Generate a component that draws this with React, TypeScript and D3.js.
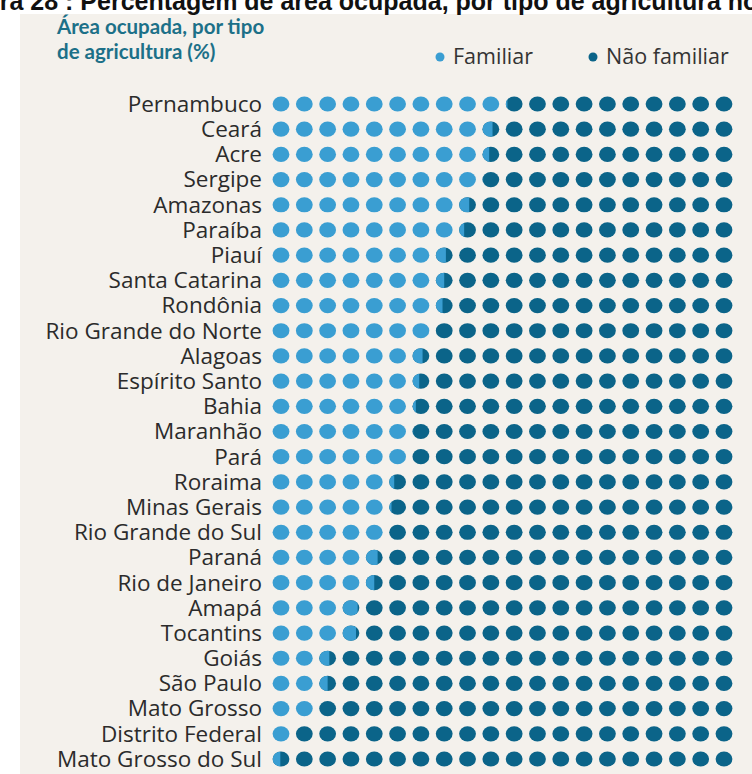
import React from "react";
import * as d3 from "d3";

// states, top to bottom
const states = [
  "Pernambuco",
  "Ceará",
  "Acre",
  "Sergipe",
  "Amazonas",
  "Paraíba",
  "Piauí",
  "Santa Catarina",
  "Rondônia",
  "Rio Grande do Norte",
  "Alagoas",
  "Espírito Santo",
  "Bahia",
  "Maranhão",
  "Pará",
  "Roraima",
  "Minas Gerais",
  "Rio Grande do Sul",
  "Paraná",
  "Rio de Janeiro",
  "Amapá",
  "Tocantins",
  "Goiás",
  "São Paulo",
  "Mato Grosso",
  "Distrito Federal",
  "Mato Grosso do Sul",
];

// % of area, agricultura familiar (1 dot = 5%)
const familiar = [
  50.5, 48, 47, 45.2, 43, 41.5, 38, 37.5, 37, 35, 33, 32, 31, 30.2, 30, 26.5,
  25.7, 25, 23.5, 22.5, 19.5, 19, 13, 12.5, 10, 5, 2.3,
];
const naoFamiliar = familiar.map((v) => 100 - v);

const legendKeys = ["Familiar", "Não familiar"];
const dotValues = d3.range(0, 100, 5); // 20 dots per row

const LIGHT = "#3a9ed2";
const DARK = "#0b6489";

export default function App() {
  const width = 752;
  const height = 774;

  const x = d3.scalePoint<number>().domain(dotValues).range([281, 724]);
  const y = d3.scalePoint<string>().domain(states).range([104, 759]);
  const rx = 8.4;
  const ry = 7.6;

  return (
    <svg
      width={width}
      height={height}
      style={{ position: "absolute", left: 0, top: 0 }}
      fontFamily="'Open Sans', sans-serif"
    >
      <rect x={0} y={0} width={width} height={height} fill="#fff" />
      <rect x={20} y={14} width={width - 20} height={height - 14} fill="#f4f1ec" />

      {/* caption, cut off by the crop */}
      <text
        x={-53}
        y={10}
        fontFamily="'Liberation Sans', Arial, sans-serif"
        fontSize={25}
        fontWeight={700}
        fill="#111"
      >
        Figura 28 : Percentagem de área ocupada, por tipo de agricultura no Brasil
      </text>

      {/* title */}
      <g fill="#1c7088" fontWeight={700} fontSize={20.5} fontFamily="Lato, sans-serif">
        <text x={57} y={34}>Área ocupada, por tipo</text>
        <text x={57} y={59}>de agricultura (%)</text>
      </g>

      {/* legend */}
      <g fontSize={21.5} fill="#333">
        <circle cx={440} cy={57} r={4.5} fill={LIGHT} />
        <text x={453} y={64}>{legendKeys[0]}</text>
        <circle cx={593} cy={57} r={4.5} fill={DARK} />
        <text x={606} y={64}>{legendKeys[1]}</text>
      </g>

      <defs>
        {states.map((s, i) => {
          const n = familiar[i] / 5;
          const k = Math.floor(n);
          const f = n - k;
          if (f <= 0 || k >= dotValues.length) return null;
          const cx = x(dotValues[k]) ?? 0;
          const cy = y(s) ?? 0;
          return (
            <clipPath id={`clip-${i}`} key={s}>
              <rect x={cx - rx} y={cy - ry} width={2 * rx * f} height={2 * ry} />
            </clipPath>
          );
        })}
      </defs>

      {states.map((s, i) => {
        const cy = y(s) ?? 0;
        const n = familiar[i] / 5;
        return (
          <g key={s}>
            <text
              x={262}
              y={cy}
              dy="0.35em"
              textAnchor="end"
              fontSize={22.5}
              fill="#2b2b2b"
            >
              {s}
            </text>
            {dotValues.map((v, j) => {
              const cx = x(v) ?? 0;
              const f = Math.max(0, Math.min(1, n - j));
              if (f >= 1)
                return <ellipse key={v} cx={cx} cy={cy} rx={rx} ry={ry} fill={LIGHT} />;
              if (f <= 0)
                return <ellipse key={v} cx={cx} cy={cy} rx={rx} ry={ry} fill={DARK} />;
              return (
                <g key={v}>
                  <ellipse cx={cx} cy={cy} rx={rx} ry={ry} fill={DARK} />
                  <ellipse
                    cx={cx}
                    cy={cy}
                    rx={rx}
                    ry={ry}
                    fill={LIGHT}
                    clipPath={`url(#clip-${i})`}
                  />
                </g>
              );
            })}
            <title>{`${s}: familiar ${familiar[i]}%, não familiar ${naoFamiliar[i]}%`}</title>
          </g>
        );
      })}
    </svg>
  );
}
